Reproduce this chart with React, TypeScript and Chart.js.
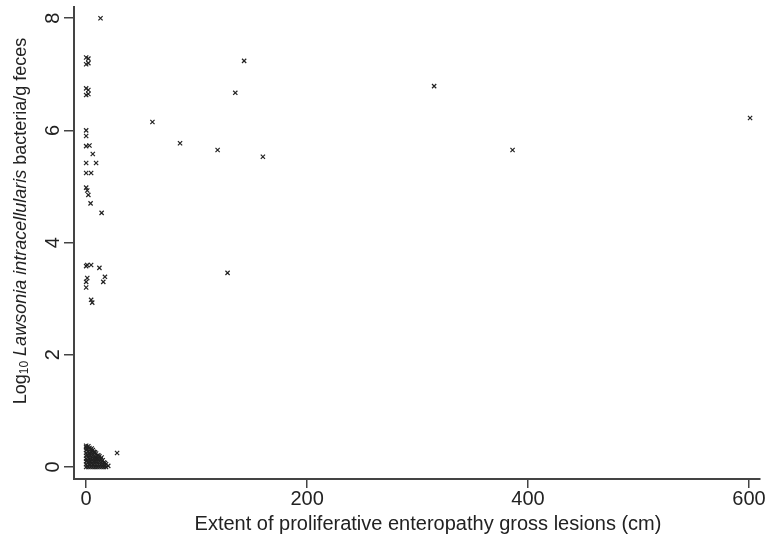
import React, { useEffect, useRef } from 'react';
import { Chart, registerables, ChartOptions, Plugin } from 'chart.js';

Chart.register(...registerables);

// pigs shedding a lot of bacteria: lesion extent (cm) and log10 count
const shedderCm = [
  13, 0, 2, 0, 2, 0, 2, 0, 2,
  0, 0, 0, 3, 6, 0, 9, 0, 4.5, 0, 1, 2, 4, 14,
  0, 1, 4.5, 12, 1, 0, 17, 15.5, 0, 4.5, 5.5,
  60, 85, 119, 135, 143, 160, 128, 315, 386, 601,
];
const shedderLog = [
  8.0, 7.3, 7.28, 7.18, 7.2, 6.75, 6.72, 6.63, 6.65,
  6.0, 5.9, 5.72, 5.73, 5.58, 5.42, 5.42, 5.24, 5.24, 4.98, 4.93, 4.85, 4.7, 4.53,
  3.58, 3.6, 3.6, 3.55, 3.37, 3.3, 3.39, 3.3, 3.2, 2.98, 2.93,
  6.15, 5.77, 5.65, 6.67, 7.24, 5.53, 3.46, 6.79, 5.65, 6.22,
];

// low shedders crowded in the bottom-left corner
const clusterCm = [
  0, 0, 0, 0, 0, 0, 0, 0, 0,
  1, 1, 1, 1,
  2, 2, 2, 2, 2,
  3, 3, 3, 3,
  4, 4, 4, 4,
  5, 5, 5, 5,
  6, 6, 6, 6,
  7, 7, 7,
  8, 8, 8, 8,
  9, 9, 9,
  10, 10, 10,
  11, 11, 11,
  12, 12, 12,
  13, 13,
  14, 14, 14,
  15, 15,
  16, 16,
  17, 17,
  18, 18,
  20, 28,
];
const clusterLog = [
  0, 0.05, 0.1, 0.15, 0.2, 0.25, 0.3, 0.35, 0.38,
  0.02, 0.12, 0.22, 0.32,
  0, 0.08, 0.18, 0.28, 0.37,
  0.04, 0.14, 0.24, 0.34,
  0, 0.1, 0.2, 0.31,
  0.06, 0.16, 0.26, 0.33,
  0, 0.11, 0.21, 0.3,
  0.05, 0.15, 0.27,
  0, 0.1, 0.19, 0.26,
  0.04, 0.14, 0.24,
  0, 0.09, 0.2,
  0.05, 0.14, 0.21,
  0, 0.1, 0.19,
  0.04, 0.14,
  0, 0.09, 0.17,
  0.03, 0.12,
  0, 0.08,
  0.03, 0.07,
  0, 0.05,
  0.02, 0.25,
];

const xTicks = [0, 200, 400, 600];
const yTicks = [0, 2, 4, 6, 8];

const xTitle = 'Extent of proliferative enteropathy gross lesions (cm)';

const FONT = '"Liberation Sans", Arial, Helvetica, sans-serif';
const INK = '#222';
const AXIS = '#444';

// y tick labels (rotated) and both axis titles, drawn by hand
const textPlugin: Plugin<'scatter'> = {
  id: 'stataText',
  afterDraw(chart) {
    const ctx = chart.ctx;
    const y = chart.scales.y;
    ctx.save();
    ctx.fillStyle = INK;
    ctx.textAlign = 'center';
    ctx.textBaseline = 'middle';
    ctx.font = `20px ${FONT}`;
    yTicks.forEach((v) => {
      ctx.save();
      ctx.translate(52, y.getPixelForValue(v));
      ctx.rotate(-Math.PI / 2);
      ctx.fillText(String(v), 0, 1);
      ctx.restore();
    });

    // x title
    ctx.fillText(xTitle, 428, 524);

    // y title with subscript and italics
    const parts = [
      { t: 'Log', f: `18px ${FONT}`, dy: 0 },
      { t: '10', f: `12px ${FONT}`, dy: 4 },
      { t: ' ', f: `18px ${FONT}`, dy: 0 },
      { t: 'Lawsonia intracellularis', f: `italic 18px ${FONT}`, dy: 0 },
      { t: ' bacteria/g feces', f: `18px ${FONT}`, dy: 0 },
    ];
    let total = 0;
    parts.forEach((p) => {
      ctx.font = p.f;
      total += ctx.measureText(p.t).width;
    });
    ctx.translate(21, 221);
    ctx.rotate(-Math.PI / 2);
    ctx.textAlign = 'left';
    let cx = -total / 2;
    parts.forEach((p) => {
      ctx.font = p.f;
      ctx.fillText(p.t, cx, p.dy);
      cx += ctx.measureText(p.t).width;
    });
    ctx.restore();
  },
};

const App: React.FC = () => {
  const canvasRef = useRef<HTMLCanvasElement>(null);

  useEffect(() => {
    if (!canvasRef.current) return;

    const points = [
      ...shedderCm.map((x, i) => ({ x, y: shedderLog[i] })),
      ...clusterCm.map((x, i) => ({ x, y: clusterLog[i] })),
    ];

    const options: ChartOptions<'scatter'> = {
      responsive: false,
      animation: false,
      layout: { padding: { top: 7, right: 6, left: 0, bottom: 0 } },
      plugins: {
        legend: { display: false },
        tooltip: { enabled: false },
      },
      scales: {
        x: {
          type: 'linear',
          min: -11,
          max: 610,
          afterBuildTicks: (scale) => {
            scale.ticks = xTicks.map((value) => ({ value }));
          },
          afterFit: (scale) => {
            scale.height = 66;
          },
          grid: { drawOnChartArea: false, drawTicks: true, tickLength: 9, color: AXIS, lineWidth: 1.5 },
          border: { display: true, color: AXIS, width: 2 },
          ticks: {
            color: INK,
            padding: -1,
            font: { family: FONT, size: 20 },
            maxRotation: 0,
          },
        },
        y: {
          type: 'linear',
          min: -0.214,
          max: 8.2,
          afterBuildTicks: (scale) => {
            scale.ticks = yTicks.map((value) => ({ value }));
          },
          afterFit: (scale) => {
            scale.width = 74;
          },
          grid: { drawOnChartArea: false, drawTicks: true, tickLength: 10, color: AXIS, lineWidth: 1.5 },
          border: { display: true, color: AXIS, width: 2 },
          ticks: { display: false },
        },
      },
    };

    const chart = new Chart(canvasRef.current, {
      type: 'scatter',
      data: {
        datasets: [
          {
            label: 'pigs',
            data: points,
            pointStyle: 'crossRot',
            pointRadius: 3,
            pointBorderWidth: 1.2,
            borderColor: INK,
            backgroundColor: 'transparent',
          },
        ],
      },
      options,
      plugins: [textPlugin],
    });

    return () => {
      chart.destroy();
    };
  }, []);

  return (
    <div style={{ position: 'absolute', left: 0, top: 0, width: 766, height: 545, background: '#fff' }}>
      <canvas ref={canvasRef} width={766} height={545}></canvas>
    </div>
  );
};

export default App;
